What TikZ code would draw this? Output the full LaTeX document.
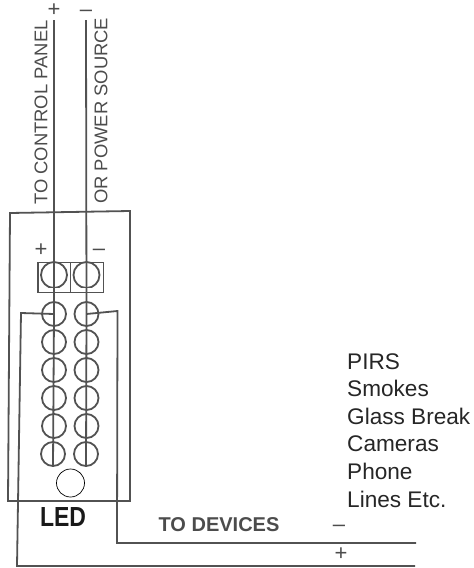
\documentclass[tikz,border=0pt]{standalone}
\usepackage{fontspec}
\setmainfont{Liberation Sans}
\usepackage{tikz}

\begin{document}
\begin{tikzpicture}[x=1pt,y=-1pt]
	\tikzstyle{every node}=[inner sep=0pt,text=black!70]
	\tikzstyle{wire}=[draw=black!68,line width=1.8pt]
	\tikzstyle{hole}=[wire,circle,minimum size=24pt]
	\tikzstyle{screw}=[wire,circle,minimum size=26pt]
	\tikzstyle{sign}=[font=\fontsize{22}{22}\selectfont]
	\tikzstyle{scan}=[font=\fontsize{18.4}{18.4}\selectfont]
	\tikzstyle{item}=[anchor=base west,text=black!85,font=\fontsize{22.6}{22.6}\selectfont]
	\useasboundingbox (0,0) rectangle (474,568);
	% panel and terminal block
	\draw[wire] (10,213) -- (130,211) -- (130,501) -- (8,501) -- cycle;
	\node[screw] (s1) at (54,275) {};
	\node[screw] (s2) at (86.5,275) {};
	\fill[white] (30,288) rectangle (110,310);
	\draw[wire,fill=none] (38,262.5) rectangle (103.5,292.5);
	\coordinate (sm) at (70.5,262.5);
	\coordinate (sn) at (70.5,292.5);
	\draw[wire] (sm) -- (sn);
	% left column
	\node[hole] (p1) at (54,314) {};
	\node[hole] (p2) at (54,342) {};
	\node[hole] (p3) at (54,370) {};
	\node[hole] (p4) at (54,398) {};
	\node[hole] (p5) at (54,426) {};
	\node[hole] (p6) at (53,454) {};
	% right column
	\node[hole] (n1) at (86.5,314) {};
	\node[hole] (n2) at (86.5,342) {};
	\node[hole] (n3) at (86.5,370) {};
	\node[hole] (n4) at (86.5,398) {};
	\node[hole] (n5) at (86.5,426) {};
	\node[hole] (n6) at (86,454) {};
	% wires
	\coordinate (pt) at (54,20);
	\coordinate (nt) at (86,20);
	\coordinate (pe) at (415,566);
	\coordinate (ne) at (416,543);
	\draw[wire] (pt) -- (p1.center) -- (p6.south);
	\draw[wire] (nt) -- (n1.center) -- (n6.south);
	\draw[wire] (p1.center) -- (21,313) -- (17,566) -- (pe);
	\draw[wire] (n1.center) -- (117.5,311) -- (117,543) -- (ne);
	\node[draw=black,line width=0.7pt,circle,minimum size=28pt] (led) at (70.5,483) {};
	% labels
	\node[scan,rotate=90,anchor=west] (cp) at (41,205) {TO CONTROL PANEL};
	\node[scan,rotate=90,anchor=west] (ps) at (101,204) {OR POWER SOURCE};
	\node[sign] (t1) at (54,10) {+};
	\node[sign] (t2) at (86,13) {--};
	\node[sign] (t3) at (41,250) {+};
	\node[sign] (t4) at (99,252) {--};
	\node[font=\bfseries\fontsize{23}{23}\selectfont,text=black!90,yscale=1.2] (ledl) at (63,517) {LED};
	\node[font=\bfseries\fontsize{20}{20}\selectfont] (dev) at (219,525) {TO DEVICES};
	\node[sign] (d1) at (339,528) {--};
	\node[sign] (d2) at (341,554) {+};
	\node[item] (i1) at (347,369) {PIRS};
	\node[item] (i2) at (347,396.5) {Smokes};
	\node[item] (i3) at (347,424) {Glass Break};
	\node[item] (i4) at (347,451.5) {Cameras};
	\node[item] (i5) at (347,479) {Phone};
	\node[item] (i6) at (347,507) {Lines Etc.};
\end{tikzpicture}
\end{document}
